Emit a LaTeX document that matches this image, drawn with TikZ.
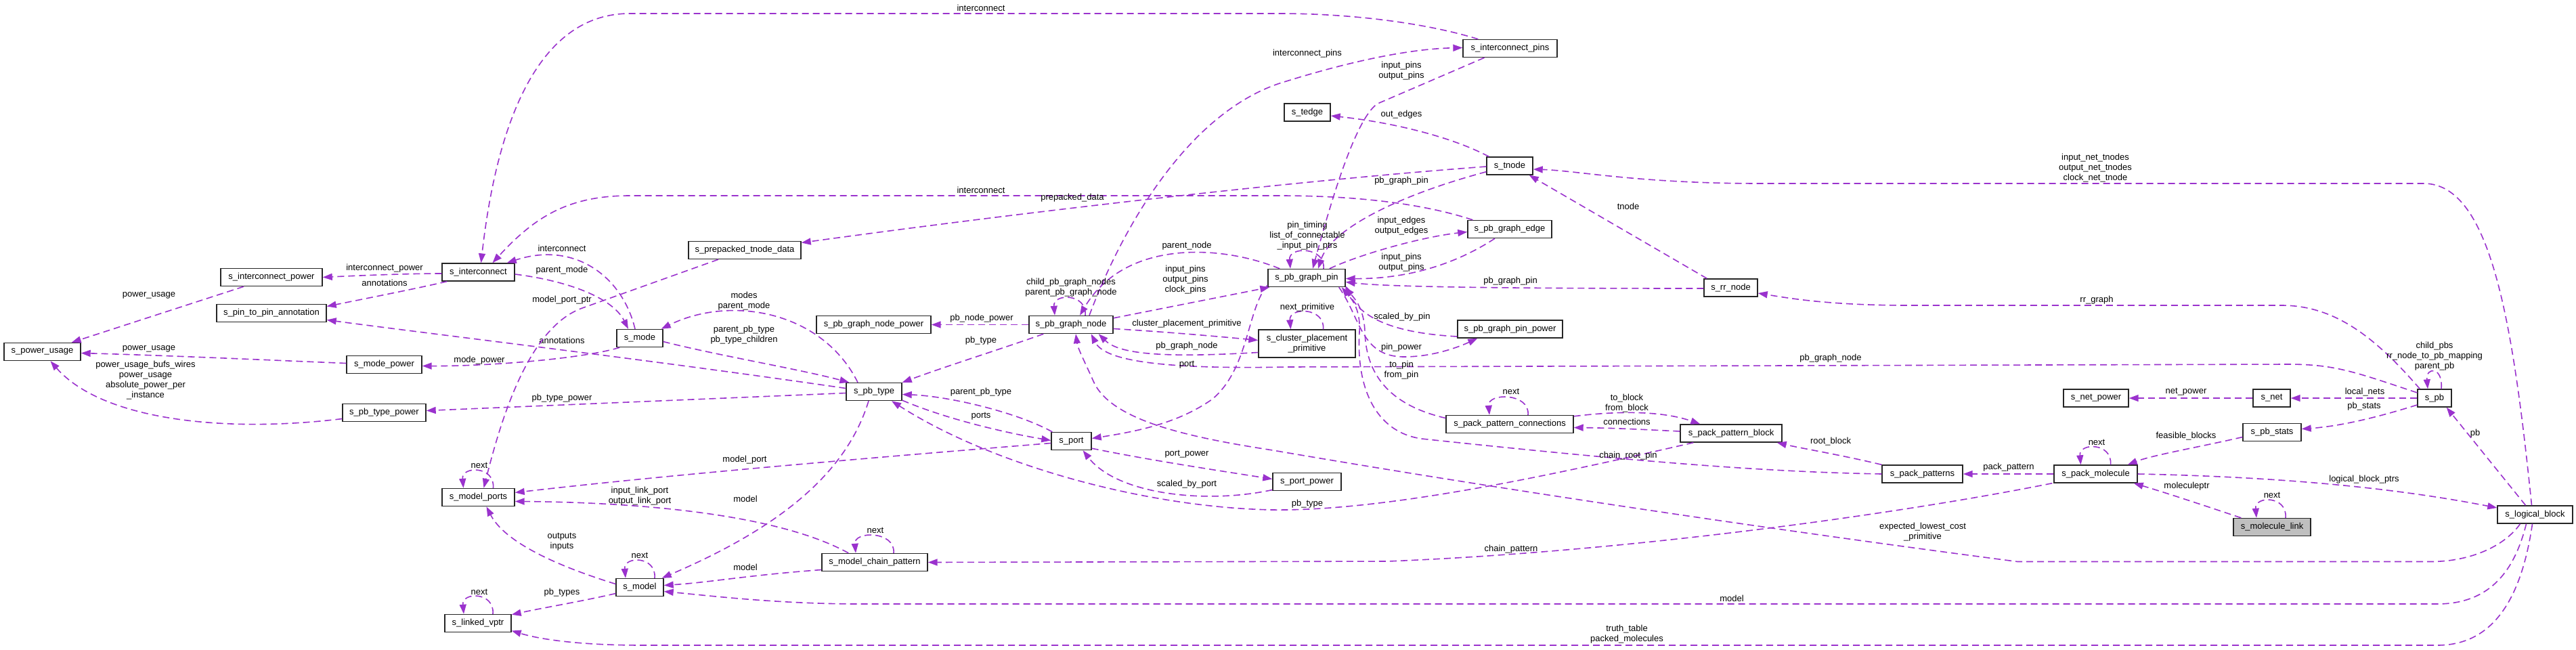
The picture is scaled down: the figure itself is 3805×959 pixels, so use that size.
\documentclass[tikz,border=0pt]{standalone}
\usepackage{fontspec}
\setmainfont{Liberation Sans}
\usetikzlibrary{arrows.meta,calc}
\definecolor{edgec}{HTML}{9A32CD}
\newcommand\dxf{\fontsize{13}{15}\selectfont}
\begin{document}
\begin{tikzpicture}[x=1pt,y=-1pt,
  cls/.style={draw=black!85, line width=1.4pt, fill=white, font=\dxf, inner sep=0pt, minimum height=26pt, anchor=center},
  dep/.style={draw=edgec, line width=1.6pt, dash pattern=on 10pt off 6pt, -{Triangle[length=14pt,width=10pt]}},
  elab/.style={font=\dxf, align=center, inner sep=0pt},
]
\useasboundingbox (0,0) rectangle (3805,959);
% ---------------- nodes ----------------
\node[cls, minimum width=113pt] (pu) at (62.5,519.5) {s\_power\_usage};
\node[cls, minimum width=150pt] (icp) at (401,409.5) {s\_interconnect\_power};
\node[cls, minimum width=162pt] (p2p) at (401,462.5) {s\_pin\_to\_pin\_annotation};
\node[cls, minimum width=111pt] (mpw) at (567.5,538.5) {s\_mode\_power};
\node[cls, minimum width=123pt] (ptp) at (567.5,609.5) {s\_pb\_type\_power};
\node[cls, minimum width=107pt] (ic) at (706.5,402) {s\_interconnect};
\node[cls, minimum width=107pt] (mp) at (706.5,734.5) {s\_model\_ports};
\node[cls, minimum width=98pt] (lv) at (706,920.5) {s\_linked\_vptr};
\node[cls, minimum width=68pt] (mode) at (945,499.5) {s\_mode};
\node[cls, minimum width=70pt] (model) at (945,867.5) {s\_model};
\node[cls, minimum width=166pt] (ptd) at (1100,369.5) {s\_prepacked\_tnode\_data};
\node[cls, minimum width=169pt] (gnp) at (1290.5,479.5) {s\_pb\_graph\_node\_power};
\node[cls, minimum width=82pt] (pbt) at (1291,578.5) {s\_pb\_type};
\node[cls, minimum width=156pt] (mcp) at (1292,830.5) {s\_model\_chain\_pattern};
\node[cls, minimum width=124pt] (gn) at (1582,479.5) {s\_pb\_graph\_node};
\node[cls, minimum width=59pt] (port) at (1582.5,651.5) {s\_port};
\node[cls, minimum width=68pt] (tedge) at (1931,166) {s\_tedge};
\node[cls, minimum width=114pt] (gpin) at (1930,410.5) {s\_pb\_graph\_pin};
\node[cls, minimum width=143pt, minimum height=41pt, align=center] (cpp) at (1930.5,507.5) {s\_cluster\_placement\\\_primitive};
\node[cls, minimum width=101pt] (ppw) at (1930.5,711.5) {s\_port\_power};
\node[cls, minimum width=139pt] (icpins) at (2230.5,71.5) {s\_interconnect\_pins};
\node[cls, minimum width=68pt] (tnode) at (2230,245) {s\_tnode};
\node[cls, minimum width=124pt] (gedge) at (2230,338.5) {s\_pb\_graph\_edge};
\node[cls, minimum width=155pt] (gpp) at (2230.5,486) {s\_pb\_graph\_pin\_power};
\node[cls, minimum width=188pt] (ppc) at (2230,626.5) {s\_pack\_pattern\_connections};
\node[cls, minimum width=79pt] (rr) at (2556.5,425) {s\_rr\_node};
\node[cls, minimum width=150pt] (ppb) at (2557,640) {s\_pack\_pattern\_block};
\node[cls, minimum width=119pt] (pps) at (2839.5,700) {s\_pack\_patterns};
\node[cls, minimum width=96pt] (npw) at (3096,588) {s\_net\_power};
\node[cls, minimum width=123pt] (pm) at (3095.5,700) {s\_pack\_molecule};
\node[cls, minimum width=55pt] (net) at (3355.5,588) {s\_net};
\node[cls, minimum width=86pt] (pbs) at (3356,638.5) {s\_pb\_stats};
\node[cls, minimum width=114pt, fill=black!25] (ml) at (3356,778.5) {s\_molecule\_link};
\node[cls, minimum width=50pt] (pb) at (3596,588) {s\_pb};
\node[cls, minimum width=111pt] (lb) at (3744.5,760) {s\_logical\_block};
% ---------------- edges ----------------
% left part
\draw[dep] ($(ic.west)+(0,2)$) .. controls (600,404) and (530,407) .. (icp.east);
\node[elab] at (568,396) {interconnect\_power};
\draw[dep] ($(ic.south west)+(8,0)$) .. controls (620,425) and (560,437) .. ($(p2p.east)+(0,-10)$);
\node[elab] at (568,418) {annotations};
\draw[dep] ($(pbt.west)+(0,-5)$) .. controls (950,530) and (650,495) .. ($(p2p.east)+(0,10)$);
\node[elab] at (830,503) {annotations};
\draw[dep] ($(icp.south)+(-41,0)$) -- ($(pu.north east)+(-14,0)$);
\node[elab] at (220,436) {power\_usage};
\draw[dep] ($(mpw.west)+(0,-2)$) .. controls (400,532) and (250,525) .. ($(pu.east)+(0,2)$);
\node[elab] at (220,515) {power\_usage};
\draw[dep] ($(ptp.west)+(0,9)$) .. controls (330,640) and (150,620) .. ($(pu.south)+(12,0)$);
\node[elab] at (215,562) {power\_usage\_bufs\_wires\\power\_usage\\absolute\_power\_per\\\_instance};
\draw[dep] ($(mode.south west)+(5,0)$) .. controls (860,530) and (720,541) .. ($(mpw.east)+(0,2)$);
\node[elab] at (708,532) {mode\_power};
\draw[dep] ($(pbt.west)+(0,2)$) -- ($(ptp.east)+(0,-3)$);
\node[elab] at (830,588) {pb\_type\_power};
% interconnect edges
\draw[dep] ($(icpins.north west)+(23,0)$) .. controls (2110,35) and (2000,20) .. (1890,20) -- (930,20) .. controls (800,20) and (735,170) .. ($(ic.north)+(4,0)$);
\node[elab] at (1449,12) {interconnect};
\draw[dep] ($(gedge.north west)+(8,0)$) .. controls (2100,300) and (2000,289) .. (1890,289) -- (930,289) .. controls (840,289) and (790,320) .. ($(ic.north)+(21,0)$);
\node[elab] at (1449,281) {interconnect};
\draw[dep] ($(mode.north)+(-7,0)$) .. controls (920,410) and (850,355) .. ($(ic.north east)+(-12,0)$);
\node[elab] at (830,367) {interconnect};
\draw[dep] ($(ic.east)+(0,3)$) .. controls (840,415) and (905,440) .. ($(mode.north)+(-17,0)$);
\node[elab] at (830,399) {parent\_mode};
% tnode
\draw[dep] ($(tnode.west)+(0,1)$) .. controls (1900,268) and (1500,315) .. ($(ptd.east)+(0,-11)$);
\node[elab] at (1584,292) {prepacked\_data};
\draw[dep] ($(tnode.south west)+(0,-5)$) .. controls (2060,290) and (1965,340) .. ($(gpin.north)+(17,0)$);
\node[elab] at (2070,267) {pb\_graph\_pin};
\draw[dep] ($(tnode.north west)+(4,0)$) .. controls (2140,200) and (2050,180) .. ($(tedge.east)+(0,5)$);
\node[elab] at (2070,169) {out\_edges};
\draw[dep] ($(lb.north)+(-5,0)$) .. controls (3712,480) and (3680,271) .. (3580,271) -- (2600,271) .. controls (2420,271) and (2330,252) .. ($(tnode.east)+(0,5)$);
\node[elab] at (3095,248) {input\_net\_tnodes\\output\_net\_tnodes\\clock\_net\_tnode};
\draw[dep] ($(rr.north west)+(5,0)$) -- ($(tnode.south east)+(-6,0)$);
\node[elab] at (2405,305) {tnode};
\draw[dep] ($(rr.west)+(0,1)$) .. controls (2300,426) and (2060,425) .. ($(gpin.east)+(0,6)$);
\node[elab] at (2231,415) {pb\_graph\_pin};
\draw[dep] ($(pb.north west)+(4,0)$) .. controls (3510,500) and (3450,451) .. (3370,451) -- (2820,451) .. controls (2700,451) and (2640,440) .. ($(rr.east)+(0,8)$);
\node[elab] at (3097,443) {rr\_graph};
% pb_graph_pin / pb_graph_node
\draw[dep] ($(gn.north)+(27,0)$) .. controls (1660,330) and (1760,160) .. (1900,120) .. controls (1990,92) and (2080,72) .. ($(icpins.west)+(0,-1)$);
\node[elab] at (1931,79) {interconnect\_pins};
\draw[dep] ($(icpins.south)+(-38,0)$) -- (2035,153) .. controls (2000,175) and (1960,320) .. ($(gpin.north)+(9,0)$);
\node[elab] at (2070,105) {input\_pins\\output\_pins};
\draw[dep] ($(gpin.north)+(25,0)$) .. controls +(3,-33) and +(-3,-33) .. ($(gpin.north)+(-24,0)$);
\node[elab] at (1931,348) {pin\_timing\\list\_of\_connectable\\\_input\_pin\_ptrs};
\draw[dep] ($(gedge.south)+(-22,0)$) .. controls (2150,390) and (2080,412) .. ($(gpin.east)+(0,1)$);
\node[elab] at (2070,388) {input\_pins\\output\_pins};
\draw[dep] ($(gpin.north east)+(-24,0)$) .. controls (2010,375) and (2100,350) .. ($(gedge.west)+(0,4)$);
\node[elab] at (2070,334) {input\_edges\\output\_edges};
\draw[dep] ($(gn.north east)+(0,4)$) -- ($(gpin.south west)+(3,0)$);
\node[elab] at (1751,413) {input\_pins\\output\_pins\\clock\_pins};
\draw[dep] ($(gpin.north west)+(18,0)$) .. controls (1800,360) and (1660,355) .. ($(gn.north)+(13,0)$);
\node[elab] at (1753,363) {parent\_node};
\draw[dep] ($(gn.north)+(21,0)$) .. controls +(3,-33) and +(-3,-33) .. ($(gn.north)+(-24,0)$);
\node[elab] at (1582,425) {child\_pb\_graph\_nodes\\parent\_pb\_graph\_node};
\draw[dep] (gn.west) -- (gnp.east);
\node[elab] at (1450,470) {pb\_node\_power};
\draw[dep] ($(gn.east)+(0,6)$) .. controls (1720,490) and (1800,497) .. ($(cpp.west)+(0,-5)$);
\node[elab] at (1753,478) {cluster\_placement\_primitive};
\draw[dep] ($(cpp.west)+(0,13)$) .. controls (1700,530) and (1650,520) .. ($(gn.south east)+(-22,0)$);
\node[elab] at (1753,511) {pb\_graph\_node};
\draw[dep] ($(pb.west)+(0,-8)$) .. controls (3480,550) and (3450,538) .. (3380,538) -- (1900,542) .. controls (1700,546) and (1630,530) .. ($(gn.south east)+(-33,0)$);
\node[elab] at (2704,529) {pb\_graph\_node};
\draw[dep] ($(gpin.south west)+(0,-3)$) .. controls (1842,455) and (1845,545) .. (1790,590) .. controls (1740,625) and (1680,637) .. ($(port.east)+(0,-4)$);
\node[elab] at (1753,539) {port};
\draw[dep] ($(gn.south west)+(22,0)$) .. controls (1480,515) and (1400,540) .. (pbt.north east);
\node[elab] at (1449,503) {pb\_type};
\draw[dep] ($(mode.east)+(0,5)$) .. controls (1060,525) and (1180,545) .. ($(pbt.north west)+(5,0)$);
\node[elab] at (1099,495) {parent\_pb\_type\\pb\_type\_children};
\draw[dep] ($(pbt.north)+(-24,0)$) .. controls (1215,460) and (1080,435) .. ($(mode.north east)+(-3,0)$);
\node[elab] at (1099,445) {modes\\parent\_mode};
\draw[dep] ($(pbt.south east)+(0,-1)$) .. controls (1400,620) and (1490,640) .. ($(port.west)+(0,-1)$);
\node[elab] at (1449,615) {ports};
\draw[dep] ($(port.north west)+(2,0)$) .. controls (1500,608) and (1400,585) .. ($(pbt.east)+(0,4)$);
\node[elab] at (1449,579) {parent\_pb\_type};
\draw[dep] ($(ppb.south west)+(20,0)$) .. controls (2300,700) and (2050,755) .. (1880,753) .. controls (1700,750) and (1470,690) .. ($(pbt.south)+(26,0)$);
\node[elab] at (1931,744) {pb\_type};
\draw[dep] (pps.west) .. controls (2600,697) and (2400,680) .. (2100,648) .. controls (2030,638) and (2003,570) .. (2008,490) .. controls (2010,455) and (1995,440) .. ($(gpin.south east)+(-6,0)$);
\node[elab] at (2405,673) {chain\_root\_pin};
\draw[dep] ($(ppc.west)+(0,-9)$) .. controls (2060,600) and (2018,560) .. (2016,490) .. controls (2015,455) and (2000,440) .. ($(gpin.south east)+(-1,0)$);
\node[elab] at (2070,547) {to\_pin\\from\_pin};
\draw[dep] ($(gpp.west)+(0,11)$) .. controls (2060,492) and (2010,470) .. ($(gpin.south east)+(0,-2)$);
\node[elab] at (2071,468) {scaled\_by\_pin};
\draw[dep] ($(gpin.south east)+(-10,0)$) .. controls (2010,470) and (2010,527) .. (2074,527) .. controls (2120,527) and (2160,510) .. ($(gpp.south west)+(30,0)$);
\node[elab] at (2070,513) {pin\_power};
\draw[dep] ($(cpp.north)+(24,0)$) .. controls +(3,-33) and +(-3,-33) .. ($(cpp.north)+(-24,0)$);
\node[elab] at (1931,454) {next\_primitive};
% ports and models
\draw[dep] ($(port.west)+(0,3)$) .. controls (1300,675) and (1000,700) .. ($(mp.east)+(0,-7)$);
\node[elab] at (1100,679) {model\_port};
\draw[dep] ($(mcp.north west)+(40,0)$) .. controls (1150,760) and (950,742) .. ($(mp.east)+(0,6)$);
\node[elab] at (945,733) {input\_link\_port\\output\_link\_port};
\draw[dep] ($(model.west)+(0,-5)$) .. controls (820,835) and (745,800) .. ($(mp.south)+(12,0)$);
\node[elab] at (830,800) {outputs\\inputs};
\draw[dep] ($(mp.north)+(22,0)$) .. controls +(3,-33) and +(-3,-33) .. ($(mp.north)+(-22,0)$);
\node[elab] at (708,687) {next};
\draw[dep] ($(ptd.south)+(-39,0)$) -- (860,455) .. controls (780,484) and (740,620) .. ($(mp.north)+(8,0)$);
\node[elab] at (830,443) {model\_port\_ptr};
\draw[dep] ($(pbt.south)+(-8,0)$) .. controls (1250,700) and (1150,780) .. ($(model.north east)+(-3,0)$);
\node[elab] at (1101,737) {model};
\draw[dep] ($(mcp.west)+(0,11)$) .. controls (1100,850) and (1050,860) .. ($(model.east)+(0,-3)$);
\node[elab] at (1101,838) {model};
\draw[dep] ($(lb.south)+(-13,0)$) .. controls (3715,840) and (3680,892) .. (3600,892) -- (1270,892) .. controls (1150,892) and (1050,880) .. ($(model.east)+(0,6)$);
\node[elab] at (2558,884) {model};
\draw[dep] ($(lb.south)+(-4,0)$) .. controls (3725,880) and (3685,953) .. (3600,953) -- (950,953) .. controls (860,953) and (800,945) .. ($(lv.east)+(0,11)$);
\node[elab] at (2403,937) {truth\_table\\packed\_molecules};
\draw[dep] ($(lb.south)+(-22,0)$) .. controls (3700,806) and (3650,829.5) .. (3590,829.5) -- (2980,829.5) .. controls (2600,780) and (2200,720) .. (1880,665) .. controls (1750,645) and (1640,620) .. (1615,563) .. controls (1605,540) and (1592,515) .. ($(gn.south)+(7,0)$);
\node[elab] at (2840,786) {expected\_lowest\_cost\\\_primitive};
\draw[dep] ($(model.west)+(0,9)$) .. controls (860,888) and (800,898) .. ($(lv.north east)+(0,1)$);
\node[elab] at (830,875) {pb\_types};
\draw[dep] ($(model.north)+(22,0)$) .. controls +(3,-33) and +(-3,-33) .. ($(model.north)+(-21,0)$);
\node[elab] at (945,820) {next};
\draw[dep] ($(lv.north)+(22,0)$) .. controls +(3,-33) and +(-3,-33) .. ($(lv.north)+(-21,0)$);
\node[elab] at (708,874) {next};
\draw[dep] ($(mcp.north)+(28,0)$) .. controls +(3,-33) and +(-3,-33) .. ($(mcp.north)+(-28,0)$);
\node[elab] at (1293,783) {next};
\draw[dep] ($(pm.south west)+(-2,0)$) .. controls (2800,760) and (2400,815) .. (2050,829) -- (mcp.east);
\node[elab] at (2232,811) {chain\_pattern};
\draw[dep] ($(port.south east)+(0,-3)$) .. controls (1700,680) and (1800,695) .. ($(ppw.west)+(0,-4)$);
\node[elab] at (1753,671) {port\_power};
\draw[dep] ($(ppw.west)+(0,12)$) .. controls (1780,745) and (1650,730) .. ($(port.south)+(17,0)$);
\node[elab] at (1753,715) {scaled\_by\_port};
% pack patterns
\draw[dep] ($(ppc.north)+(27,0)$) .. controls +(3,-33) and +(-3,-33) .. ($(ppc.north)+(-30,0)$);
\node[elab] at (2232,578) {next};
\draw[dep] ($(ppc.north east)+(0,2)$) .. controls (2380,608) and (2450,605) .. ($(ppb.north west)+(30,0)$);
\node[elab] at (2403,596) {to\_block\\from\_block};
\draw[dep] ($(ppb.west)+(0,-3)$) .. controls (2420,634) and (2380,632) .. ($(ppc.east)+(0,5)$);
\node[elab] at (2403,623) {connections};
\draw[dep] (pps.north west) .. controls (2720,672) and (2660,662) .. ($(ppb.south east)+(-8,0)$);
\node[elab] at (2704,652) {root\_block};
\draw[dep] (pm.west) -- (pps.east);
\node[elab] at (2967,690) {pack\_pattern};
\draw[dep] ($(pm.north)+(22,0)$) .. controls +(3,-33) and +(-3,-33) .. ($(pm.north)+(-22,0)$);
\node[elab] at (3097,653) {next};
\draw[dep] ($(pbs.west)+(0,7)$) .. controls (3250,660) and (3180,672) .. ($(pm.north east)+(-15,0)$);
\node[elab] at (3229,644) {feasible\_blocks};
\draw[dep] ($(ml.north west)+(12,0)$) .. controls (3260,748) and (3200,728) .. ($(pm.south east)+(-6,0)$);
\node[elab] at (3230,718) {moleculeptr};
\draw[dep] ($(ml.north)+(20,0)$) .. controls +(3,-33) and +(-3,-33) .. ($(ml.north)+(-23,0)$);
\node[elab] at (3356,731) {next};
\draw[dep] (pm.east) .. controls (3400,705) and (3560,725) .. ($(lb.west)+(0,-10)$);
\node[elab] at (3492,708) {logical\_block\_ptrs};
\draw[dep] ($(lb.north)+(-14,0)$) -- ($(pb.south east)+(-8,0)$);
\node[elab] at (3656,640) {pb};
\draw[dep] ($(pb.north)+(10,0)$) .. controls +(3,-33) and +(-3,-33) .. ($(pb.north)+(-10,0)$);
\node[elab] at (3596,526) {child\_pbs\\rr\_node\_to\_pb\_mapping\\parent\_pb};
\draw[dep] (pb.west) -- (net.east);
\node[elab] at (3493,579) {local\_nets};
\draw[dep] (net.west) -- (npw.east);
\node[elab] at (3229,579) {net\_power};
\draw[dep] ($(pb.west)+(0,10)$) .. controls (3500,620) and (3450,630) .. ($(pbs.east)+(0,-5)$);
\node[elab] at (3492,600) {pb\_stats};
\end{tikzpicture}
\end{document}
